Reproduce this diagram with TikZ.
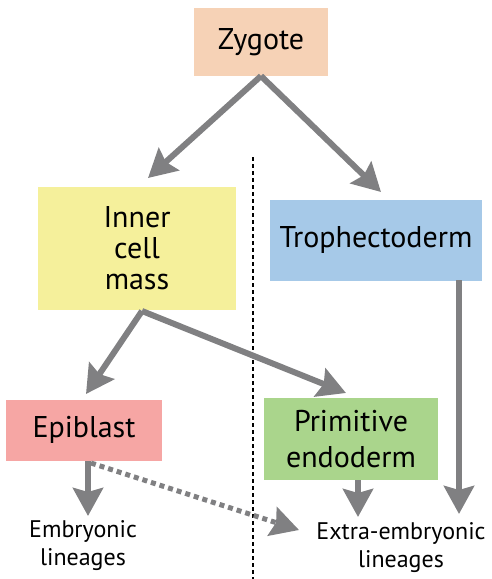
\documentclass[tikz,border=0pt]{standalone}
\usepackage{fontspec}
\setmainfont{PT Sans}
\usetikzlibrary{arrows.meta}

\definecolor{zygcol}{RGB}{246,210,182}
\definecolor{icmcol}{RGB}{245,240,155}
\definecolor{trocol}{RGB}{166,201,232}
\definecolor{epicol}{RGB}{246,166,164}
\definecolor{endcol}{RGB}{170,213,140}
\definecolor{arrcol}{RGB}{128,128,130}

\begin{document}
\begin{tikzpicture}[x=1pt,y=-1pt,
    box/.style={inner sep=0pt,align=center,font=\fontsize{30}{31}\selectfont},
    lineage/.style={align=center,font=\fontsize{24}{28}\selectfont},
    flow/.style={-{Stealth[length=28pt,width=30pt,inset=4pt]},line width=6pt,draw=arrcol},
    maybe/.style={flow,dash pattern=on 5pt off 4pt,line width=5pt}]
    \useasboundingbox (0,0) rectangle (491,579);
    \node[box,fill=zygcol,minimum width=134pt,minimum height=68pt] (Z)   at (261,42)  {Zygote};
    \node[box,fill=icmcol,minimum width=198pt,minimum height=123pt] (ICM) at (137,248) {Inner\\cell\\mass};
    \node[box,fill=trocol,minimum width=212pt,minimum height=81pt] (T)   at (376,240) {Trophectoderm};
    \node[box,fill=epicol,minimum width=156pt,minimum height=61pt] (E)   at (84,430)  {Epiblast};
    \node[box,fill=endcol,minimum width=174pt,minimum height=82pt,
          font=\fontsize{30}{36}\selectfont] (PE) at (351,439) {Primitive\\endoderm};
    \node[lineage] (EL) at (83,546)  {Embryonic\\lineages};
    \node[lineage] (XL) at (401,548) {Extra-embryonic\\lineages};
    \coordinate (Zo) at (261,76);
    \coordinate (ICMi) at (148,178);
    \coordinate (Ti) at (381,192);
    \coordinate (ICMo) at (142,311);
    \coordinate (Ei) at (86,394);
    \coordinate (PEi) at (346,393);
    \coordinate (To) at (459,280);
    \coordinate (PEo) at (358,480);
    \coordinate (Eo) at (88,461);
    \coordinate (Ed) at (91,463);
    \coordinate (ELi) at (88,516);
    \coordinate (XLi) at (358,517);
    \coordinate (XLr) at (459,514);
    \coordinate (XLl) at (299,530);
    % dividing line
    \draw[line width=1.5pt,dash pattern=on 4pt off 3pt] (253,157) -- (253,579);
    \draw[flow] (Zo) -- (ICMi);
    \draw[flow] (Zo) -- (Ti);
    \draw[flow] (ICMo) -- (Ei);
    \draw[flow] (ICMo) -- (PEi);
    \draw[flow] (To) -- (XLr);
    \draw[flow] (PEo) -- (XLi);
    \draw[flow] (Eo) -- (ELi);
    \draw[maybe] (Ed) -- (XLl);
\end{tikzpicture}
\end{document}
